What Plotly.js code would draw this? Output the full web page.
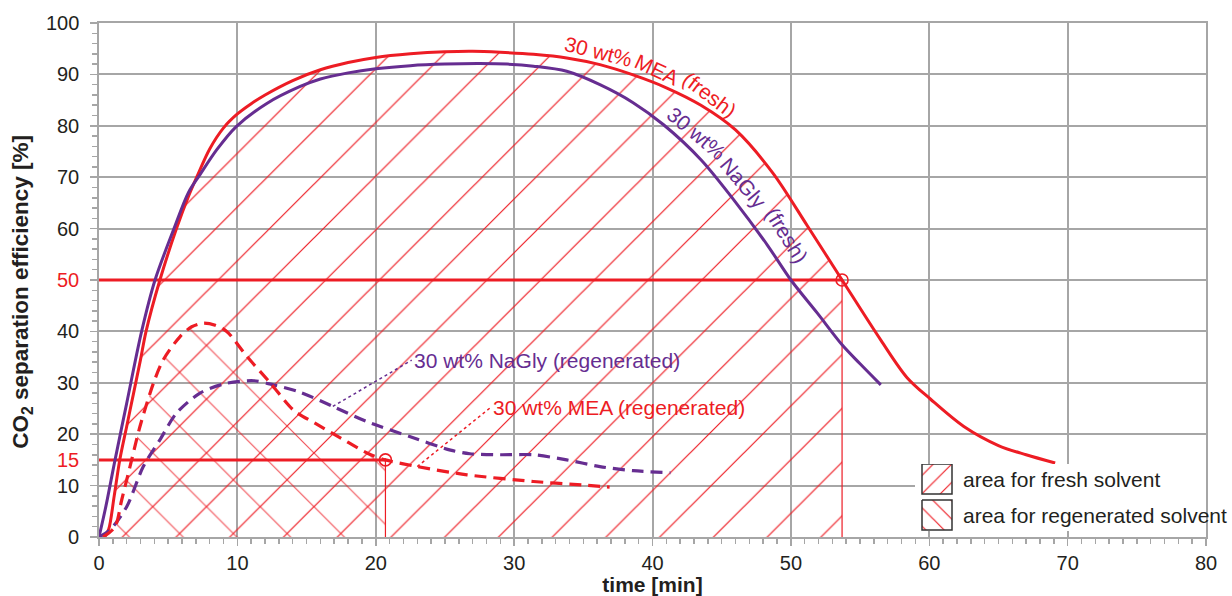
<!DOCTYPE html>
<html><head><meta charset="utf-8">
<script src="https://cdn.plot.ly/plotly-3.0.1.min.js"></script>
<style>html,body{margin:0;padding:0;background:#fff;}#chart{width:1232px;height:596px;}</style>
</head><body><div id="chart"></div>
<script>
// ---- data ----
const MEA_FRESH_X = [0.4, 0.7, 1.1, 1.5, 2.0, 2.5, 3.0, 3.4, 4.4, 5.6, 6.5, 7.06, 8.0, 9.0, 10.0, 11.0, 12.0, 14.0, 16.0, 18.0, 20.0, 22.5, 25.0, 27.0, 29.0, 31.4, 33.8, 36.2, 38.6, 41.0, 43.5, 46.0, 48.7, 51.2, 53.7, 56.5, 58.4, 60.1, 62.5, 65.0, 67.0, 69.1];
const MEA_FRESH_Y = [0, 1.5, 8, 15, 21.5, 28, 34.5, 40, 50, 60, 66.5, 70, 75.5, 79.6, 82.3, 84.3, 86.0, 88.8, 90.9, 92.3, 93.3, 94.0, 94.4, 94.5, 94.3, 93.9, 93.2, 91.9, 89.9, 87.4, 84.0, 79.2, 70.8, 60.5, 50, 38.3, 31, 26.8, 21.5, 17.8, 16.0, 14.4];

const NAGLY_FRESH_X = [0, 0.5, 1.16, 2.0, 3.08, 4.05, 5.42, 6.46, 7.3, 8.5, 9.9, 12.1, 14.5, 16.0, 18.0, 20.0, 22.5, 25.0, 27.5, 29.5, 31.4, 33.8, 36.2, 38.6, 40.8, 43.5, 45.9, 48.3, 50.0, 51.9, 53.7, 55.0, 56.5];
const NAGLY_FRESH_Y = [0, 6, 15, 26, 40, 50, 60, 67, 70.5, 75.3, 79.8, 84.3, 87.6, 89.1, 90.3, 91.1, 91.7, 92.0, 92.1, 92.0, 91.6, 90.6, 88.0, 84.5, 80.2, 73.4, 65.5, 56.8, 50, 43.6, 37.4, 33.7, 29.6];

const MEA_REGEN_X = [0.3, 1.16, 1.64, 2.36, 2.96, 3.93, 4.65, 5.86, 6.7, 7.54, 8.4, 9.23, 10.7, 12.4, 14.05, 15.7, 17.5, 19.4, 20.7, 23.0, 26.6, 31.4, 35.0, 36.9];
const MEA_REGEN_Y = [0, 2, 7.2, 15, 21.5, 29.9, 34.5, 39, 40.9, 41.6, 41.2, 40, 35.1, 29.9, 24.7, 22, 19.2, 16.3, 15, 13.7, 12.1, 10.8, 10.1, 9.7];

const NAGLY_REGEN_X = [0, 0.8, 2.0, 3.2, 4.4, 5.6, 7.3, 9.2, 11.2, 12.6, 14.5, 16.9, 19.4, 22.5, 25.4, 26.8, 29.0, 31.4, 33.8, 36.2, 38.6, 41.3];
const NAGLY_REGEN_Y = [0, 1.4, 5.9, 13.7, 18.9, 24.1, 28, 29.9, 30.4, 29.6, 28.2, 25.4, 22.4, 19.5, 16.9, 16.2, 16.0, 16.0, 15.0, 13.7, 12.9, 12.5];

// characteristic points (efficiency threshold crossings)
const MARK_X = [53.7, 20.7];
const MARK_Y = [50, 15];

// axis ticks
const X_TICKS = [0, 10, 20, 30, 40, 50, 60, 70, 80];
const Y_TICKS = [0, 10, 20, 30, 40, 50, 60, 70, 80, 90, 100];
const Y_LABELS = [0, 10, 15, 20, 30, 40, 50, 60, 70, 80, 90, 100];
const Y_RED_TICKS = [15, 50];

// labels
const Y_TITLE = 'CO<sub>2</sub> separation efficiency [%]';
const X_TITLE = 'time [min]';
const LABEL_NAGLY_REGEN = {text: '30 wt% NaGly (regenerated)', x: 22.6, y: 34.4, from: 11};
const LABEL_MEA_REGEN = {text: '30 wt% MEA (regenerated)', x: 28.3, y: 25.2, from: 19};
const LABEL_MEA_FRESH = [['30 wt%', 36.1, 94.5, 14], ['MEA', 40.3, 90.9, 25], ['(fresh)', 44.1, 86.0, 37]];
const LABEL_NAGLY_FRESH = [['30 wt%', 43.2, 78.5, 40], ['NaGly', 46.6, 68.8, 50], ['(fresh)', 49.7, 58.6, 58]];
const LEGEND_TEXT = ['area for fresh solvent', 'area for regenerated solvent'];

// ---- styling ----
const RED = '#ed1c24', PURPLE = '#662d91', GRID = '#a6a6a6', TXT = '#231f20';
const FONT = 'Liberation Sans, Arial, sans-serif';

function upTo(xs, ys, xmax) {
  const ox = [], oy = [];
  xs.forEach((v, i) => { if (v <= xmax + 1e-9) { ox.push(v); oy.push(ys[i]); } });
  return [ox, oy];
}
const [fx, fy] = upTo(MEA_FRESH_X, MEA_FRESH_Y, MARK_X[0]);
const [rx, ry] = upTo(MEA_REGEN_X, MEA_REGEN_Y, MARK_X[1]);

const traces = [];
traces.push({x: fx, y: fy, type: 'scatter', mode: 'none', fill: 'tozeroy', fillcolor: 'rgba(0,0,0,0)',
  line: {shape: 'spline', smoothing: 0.8},
  fillpattern: {shape: '/', fgcolor: RED, bgcolor: 'rgba(0,0,0,0)', size: 38, solidity: 0.032}, hoverinfo: 'skip'});
traces.push({x: rx, y: ry, type: 'scatter', mode: 'none', fill: 'tozeroy', fillcolor: 'rgba(0,0,0,0)',
  line: {shape: 'spline', smoothing: 0.8},
  fillpattern: {shape: '\\', fgcolor: RED, fgopacity: 0.75, bgcolor: 'rgba(0,0,0,0)', size: 38, solidity: 0.032}, hoverinfo: 'skip'});
// threshold lines
MARK_X.forEach((mx, i) => {
  traces.push({x: [0, mx], y: [MARK_Y[i], MARK_Y[i]], mode: 'lines', line: {color: RED, width: 3}, hoverinfo: 'skip'});
  traces.push({x: [mx, mx], y: [MARK_Y[i], 0], mode: 'lines', line: {color: RED, width: 1.2}, hoverinfo: 'skip'});
});
// curves
traces.push({x: MEA_FRESH_X, y: MEA_FRESH_Y, mode: 'lines', line: {color: RED, width: 3, shape: 'spline', smoothing: 0.9}, name: '30 wt% MEA (fresh)'});
traces.push({x: NAGLY_FRESH_X, y: NAGLY_FRESH_Y, mode: 'lines', line: {color: PURPLE, width: 3, shape: 'spline', smoothing: 0.9}, name: '30 wt% NaGly (fresh)'});
traces.push({x: NAGLY_REGEN_X, y: NAGLY_REGEN_Y, mode: 'lines', line: {color: PURPLE, width: 3.2, dash: '12px,7px', shape: 'spline', smoothing: 0.8}, name: '30 wt% NaGly (regenerated)'});
traces.push({x: MEA_REGEN_X, y: MEA_REGEN_Y, mode: 'lines', line: {color: RED, width: 3.2, dash: '12px,7px', shape: 'spline', smoothing: 0.8}, name: '30 wt% MEA (regenerated)'});
traces.push({x: MARK_X, y: MARK_Y, mode: 'markers', marker: {symbol: 'circle-open-dot', size: 12, color: RED, line: {width: 1.6, color: RED}}});
// leader lines (dotted) from curve point to label
traces.push({x: [NAGLY_REGEN_X[LABEL_NAGLY_REGEN.from], LABEL_NAGLY_REGEN.x], y: [NAGLY_REGEN_Y[LABEL_NAGLY_REGEN.from], LABEL_NAGLY_REGEN.y], mode: 'lines', line: {color: PURPLE, width: 1.5, dash: 'dot'}});
traces.push({x: [MEA_REGEN_X[LABEL_MEA_REGEN.from], LABEL_MEA_REGEN.x], y: [MEA_REGEN_Y[LABEL_MEA_REGEN.from], LABEL_MEA_REGEN.y], mode: 'lines', line: {color: RED, width: 1.5, dash: 'dot'}});

// legend inset (pixel-like coordinates in x2/y2)
const LG_BG = {x0: 915, x1: 1206, y0: 464, y1: 531};
const LG_BOX = [[922, 952, 464, 494], [922, 952, 500, 530]];
const LG_SHAPE = ['/', '\\'];
traces.push({x: [LG_BG.x0, LG_BG.x1, LG_BG.x1, LG_BG.x0, LG_BG.x0], y: [LG_BG.y0, LG_BG.y0, LG_BG.y1, LG_BG.y1, LG_BG.y0],
  xaxis: 'x2', yaxis: 'y2', mode: 'lines', line: {width: 0, color: '#fff'}, fill: 'toself', fillcolor: '#ffffff', hoverinfo: 'skip'});
LG_BOX.forEach((b, i) => {
  traces.push({x: [b[0], b[1], b[1], b[0], b[0]], y: [b[2], b[2], b[3], b[3], b[2]], xaxis: 'x2', yaxis: 'y2',
    mode: 'lines', line: {width: 1.5, color: '#333'}, fill: 'toself', fillcolor: 'rgba(0,0,0,0)',
    fillpattern: {shape: LG_SHAPE[i], fgcolor: RED, bgcolor: 'rgba(0,0,0,0)', size: 13, solidity: 0.09}, hoverinfo: 'skip'});
});

const annotations = [];
// y tick labels
Y_LABELS.forEach(v => annotations.push({xref: 'paper', yref: 'y', x: 0, y: v, xanchor: 'right', yanchor: 'middle', xshift: -18,
  text: String(v), showarrow: false, font: {family: FONT, size: 20, color: Y_RED_TICKS.includes(v) ? RED : TXT}}));
// y axis title
annotations.push({xref: 'paper', yref: 'paper', x: 0, y: 0.477, xshift: -77, xanchor: 'center', yanchor: 'middle',
  textangle: -90, text: Y_TITLE, showarrow: false, font: {family: FONT, size: 22.5, color: TXT, weight: 'bold'}});
[LABEL_NAGLY_REGEN, LABEL_MEA_REGEN].forEach((L, i) => {
  annotations.push({x: L.x, y: L.y, xanchor: 'left', yanchor: 'middle', text: L.text, showarrow: false,
    font: {family: FONT, size: 21, color: i === 0 ? PURPLE : RED}});
});
LABEL_MEA_FRESH.forEach(l => annotations.push({x: l[1], y: l[2], text: l[0], textangle: l[3], showarrow: false,
  xanchor: 'center', yanchor: 'middle', font: {family: FONT, size: 21, color: RED}}));
LABEL_NAGLY_FRESH.forEach(l => annotations.push({x: l[1], y: l[2], text: l[0], textangle: l[3], showarrow: false,
  xanchor: 'center', yanchor: 'middle', font: {family: FONT, size: 21, color: PURPLE}}));
LEGEND_TEXT.forEach((t, i) => annotations.push({xref: 'x2', yref: 'y2', x: 961, y: (LG_BOX[i][2] + LG_BOX[i][3]) / 2,
  xanchor: 'left', yanchor: 'middle', text: t, showarrow: false, font: {family: FONT, size: 21, color: TXT}}));

const axisCommon = {
  showgrid: true, gridcolor: GRID, gridwidth: 2, showline: true, linecolor: GRID, linewidth: 2, mirror: true,
  ticks: 'outside', ticklen: 7, tickcolor: GRID, tickwidth: 1.5, zeroline: false,
  tickfont: {family: FONT, size: 20, color: TXT}, fixedrange: true
};
const layout = {
  width: 1232, height: 596,
  margin: {l: 99, r: 26, t: 23, b: 59},
  paper_bgcolor: '#fff', plot_bgcolor: '#fff',
  showlegend: false,
  font: {family: FONT, color: TXT},
  xaxis: Object.assign({}, axisCommon, {range: [0, 80], tickvals: X_TICKS, ticktext: X_TICKS.map(String),
    minor: {dtick: 1, ticks: 'outside', ticklen: 5, tickcolor: GRID, tickwidth: 1.5, showgrid: false},
    title: {text: X_TITLE, font: {family: FONT, size: 21, color: TXT, weight: 'bold'}, standoff: 4}}),
  yaxis: Object.assign({}, axisCommon, {range: [0, 100], tickvals: Y_TICKS, showticklabels: false,
    minor: {dtick: 2, ticks: 'outside', ticklen: 5, tickcolor: GRID, tickwidth: 1.5, showgrid: false}}),
  xaxis2: {domain: [(LG_BG.x0 - 99) / 1107, 1], range: [LG_BG.x0, LG_BG.x1], anchor: 'y2', visible: false, fixedrange: true},
  yaxis2: {domain: [(537 - LG_BG.y1) / 514, (537 - LG_BG.y0) / 514], range: [LG_BG.y1, LG_BG.y0], anchor: 'x2', visible: false, fixedrange: true},
  annotations: annotations
};
Plotly.newPlot('chart', traces, layout, {displayModeBar: false, staticPlot: true});
</script></body></html>
